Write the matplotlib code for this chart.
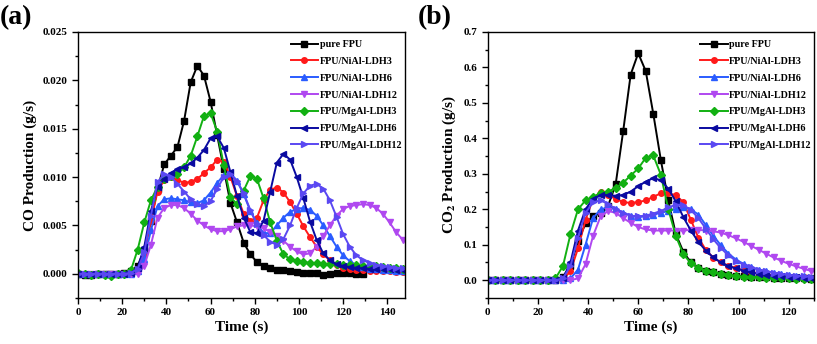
import numpy as np
import matplotlib
matplotlib.use("Agg")
import matplotlib.pyplot as plt
from matplotlib.ticker import MultipleLocator, FormatStrFormatter

plt.rcParams['font.family'] = 'Liberation Serif'
plt.rcParams['font.weight'] = 'bold'
plt.rcParams['mathtext.fontset'] = 'stix'

labels = ["pure FPU", "FPU/NiAl-LDH3", "FPU/NiAl-LDH6", "FPU/NiAl-LDH12",
          "FPU/MgAl-LDH3", "FPU/MgAl-LDH6", "FPU/MgAl-LDH12"]
colors = ["#000000", "#ff1a1a", "#2a5cff", "#b048f0", "#12b012", "#0a0aa0", "#5a48f2"]
markers = ["s", "o", "^", "v", "D", "<", ">"]

# (a) CO production, values in 1e-3 g/s, every 3 s
t_co = np.arange(0, 150, 3)
t_co_pure = np.arange(0, 132, 3)
co_pure = [0.0, -0.1, -0.1, 0.0, 0.0, 0.0, 0.0, 0.1,
           0.3, 0.8, 2.5, 5.5, 8.8, 11.3, 12.2, 13.1, 15.8, 19.8,
           21.5, 20.5, 17.8, 14.3, 10.8, 7.3, 5.3, 3.2, 2.0, 1.2,
           0.8, 0.6, 0.4, 0.35, 0.3, 0.2, 0.1, 0.1, 0.05, -0.1,
           0.0, 0.1, 0.1, 0.05, 0.0, 0.0]
co_ni3 = [0, 0, 0, 0, 0, 0, 0, 0,
          0.1, 0.5, 2.0, 5.5, 8.5, 9.7, 10.0, 9.7, 9.4, 9.5,
          9.8, 10.4, 11.0, 11.8, 11.6, 10.0, 8.0, 6.2, 5.5, 5.8,
          7.6, 8.7, 8.9, 8.4, 7.4, 6.2, 4.9, 3.8, 2.8, 2.0,
          1.4, 0.9, 0.6, 0.5, 0.4, 0.35, 0.3, 0.3, 0.3, 0.25, 0.2, 0.2]
co_ni6 = [0, 0, 0, 0, 0, 0, 0, 0,
          0.0, 0.3, 1.5, 4.5, 7.0, 7.7, 7.8, 7.7, 7.6, 7.4,
          7.3, 7.6, 8.4, 9.4, 10.2, 10.4, 9.6, 8.2, 6.5, 5.2,
          4.2, 4.2, 5.0, 5.8, 6.4, 6.7, 6.8, 6.6, 6.0, 5.0,
          3.9, 2.8, 1.9, 1.3, 0.9, 0.7, 0.5, 0.45, 0.4, 0.35, 0.3, 0.3]
co_ni12 = [0, 0, 0, 0, 0, 0, 0, 0,
           0.0, 0.0, 0.8, 3.0, 5.8, 6.8, 7.1, 7.1, 6.8, 6.2,
           5.5, 5.0, 4.6, 4.4, 4.4, 4.6, 4.9, 5.0, 5.0, 4.9,
           4.7, 4.3, 3.9, 3.4, 2.8, 2.3, 2.0, 2.1, 2.8, 3.9,
           5.0, 6.0, 6.7, 7.0, 7.1, 7.2, 7.1, 6.8, 6.2, 5.3, 4.3, 3.5]
co_mg3 = [0.1, 0.0, -0.1, 0.0, -0.1, -0.2, 0.0, 0.0,
          0.4, 2.5, 5.3, 7.6, 9.0, 9.8, 10.1, 10.3, 11.0, 12.2,
          14.2, 16.3, 16.6, 14.7, 11.2, 7.9, 7.2, 8.6, 10.1, 9.8,
          7.8, 5.3, 3.4, 2.0, 1.5, 1.3, 1.2, 1.1, 1.1, 1.0,
          1.0, 1.0, 0.9, 0.9, 0.9, 0.8, 0.8, 0.8, 0.7, 0.6, 0.6, 0.5]
co_mg6 = [0, 0, 0, 0, 0, 0, 0, 0,
          0.1, 0.6, 2.8, 6.5, 9.0, 9.8, 10.4, 10.8, 11.0, 11.4,
          12.0, 12.8, 14.0, 14.2, 13.0, 10.5, 8.0, 5.8, 4.3, 4.2,
          5.5, 8.5, 11.5, 12.4, 11.8, 10.0, 7.8, 5.4, 3.5, 2.1,
          1.4, 1.0, 0.8, 0.7, 0.6, 0.55, 0.5, 0.5, 0.5, 0.45, 0.4, 0.4]
co_mg12 = [0, 0, 0, 0, 0, 0, 0, 0,
           0.1, 0.5, 2.2, 6.0, 9.5, 10.3, 10.0, 9.3, 8.5, 7.7,
           7.2, 7.0, 7.5, 8.8, 10.0, 10.3, 9.6, 8.3, 6.6, 5.1,
           4.0, 3.3, 3.0, 3.6, 5.0, 6.8, 8.3, 9.1, 9.3, 8.8,
           7.6, 5.9, 4.1, 2.8, 1.9, 1.4, 1.1, 0.9, 0.8, 0.7, 0.6, 0.6]

# (b) CO2 production, g/s, every 3 s
t_co2 = np.arange(0, 135, 3)
co2_pure = [0] * 10 + [0.01, 0.04, 0.11, 0.16, 0.18, 0.19, 0.21, 0.27,
            0.42, 0.58, 0.64, 0.59, 0.47, 0.34, 0.225, 0.13, 0.08, 0.05,
            0.035, 0.027, 0.022, 0.018, 0.015, 0.013, 0.011, 0.01, 0.009, 0.008,
            0.007, 0.006, 0.006, 0.005, 0.005, 0.004, 0.004]
co2_ni3 = [0] * 10 + [0.003, 0.025, 0.09, 0.17, 0.23, 0.25, 0.24, 0.23,
           0.22, 0.218, 0.22, 0.225, 0.235, 0.245, 0.245, 0.24, 0.22, 0.17,
           0.12, 0.085, 0.063, 0.05, 0.04, 0.034, 0.028, 0.023, 0.019, 0.016,
           0.014, 0.012, 0.01, 0.009, 0.008, 0.007, 0.006]
co2_ni6 = [0] * 11 + [0.005, 0.03, 0.10, 0.175, 0.2, 0.205, 0.2,
           0.19, 0.182, 0.178, 0.18, 0.185, 0.19, 0.195, 0.2, 0.205, 0.2,
           0.185, 0.155, 0.125, 0.098, 0.075, 0.058, 0.046, 0.037, 0.03, 0.025,
           0.021, 0.018, 0.015, 0.013, 0.011, 0.01, 0.009]
co2_ni12 = [0] * 12 + [0.005, 0.045, 0.125, 0.18, 0.195, 0.19,
            0.175, 0.162, 0.15, 0.143, 0.14, 0.14, 0.14, 0.14, 0.14, 0.142,
            0.142, 0.14, 0.138, 0.134, 0.127, 0.118, 0.108, 0.097, 0.086, 0.075,
            0.064, 0.055, 0.046, 0.039, 0.032, 0.026, 0.022]
co2_mg3 = [0] * 9 + [0.005, 0.04, 0.13, 0.2, 0.225, 0.235, 0.245, 0.25, 0.26,
           0.275, 0.295, 0.315, 0.345, 0.352, 0.298, 0.2, 0.125, 0.073, 0.048,
           0.035, 0.027, 0.022, 0.018, 0.015, 0.012, 0.01, 0.009, 0.008, 0.007,
           0.006, 0.005, 0.005, 0.004, 0.004, 0.004, 0.003]
co2_mg6 = [0] * 10 + [0.005, 0.05, 0.14, 0.2, 0.23, 0.24, 0.24, 0.238,
           0.24, 0.25, 0.265, 0.278, 0.288, 0.282, 0.258, 0.222, 0.178, 0.14,
           0.108, 0.083, 0.064, 0.05, 0.04, 0.033, 0.027, 0.022, 0.018, 0.015,
           0.013, 0.011, 0.01, 0.008, 0.007, 0.006, 0.006]
co2_mg12 = [0] * 10 + [0.005, 0.04, 0.12, 0.19, 0.22, 0.225, 0.215, 0.2,
            0.19, 0.182, 0.18, 0.182, 0.188, 0.195, 0.205, 0.213, 0.212, 0.198,
            0.175, 0.145, 0.115, 0.09, 0.07, 0.055, 0.044, 0.036, 0.03, 0.025,
            0.021, 0.018, 0.015, 0.013, 0.011, 0.01, 0.009]

co_sets = [(t_co_pure, co_pure), (t_co, co_ni3), (t_co, co_ni6), (t_co, co_ni12),
           (t_co, co_mg3), (t_co, co_mg6), (t_co, co_mg12)]
co2_sets = [co2_pure, co2_ni3, co2_ni6, co2_ni12, co2_mg3, co2_mg6, co2_mg12]


def style_axes(ax):
    ax.tick_params(which='both', direction='out', labelsize=8, width=1)
    ax.tick_params(which='major', length=4)
    ax.tick_params(which='minor', length=2.5)
    for s in ax.spines.values():
        s.set_linewidth(1.0)
    for lab in ax.get_xticklabels() + ax.get_yticklabels():
        lab.set_fontweight('bold')


fig = plt.figure(figsize=(8.17, 3.44), dpi=100)
ax1 = fig.add_axes([0.0955, 0.134, 0.4002, 0.773])
ax2 = fig.add_axes([0.597, 0.134, 0.399, 0.773])

for (tt, vals), lab, c, m in zip(co_sets, labels, colors, markers):
    ax1.plot(tt, np.array(vals) * 1e-3, color=c, marker=m, markersize=4,
             linewidth=1.4, label=lab)
for vals, lab, c, m in zip(co2_sets, labels, colors, markers):
    ax2.plot(t_co2, vals, color=c, marker=m, markersize=4,
             linewidth=1.4, label=lab)

ax1.set_xlim(0, 148)
ax1.set_ylim(-0.0025, 0.025)
ax1.xaxis.set_major_locator(MultipleLocator(20))
ax1.xaxis.set_minor_locator(MultipleLocator(10))
ax1.yaxis.set_major_locator(MultipleLocator(0.005))
ax1.yaxis.set_minor_locator(MultipleLocator(0.0025))
ax1.yaxis.set_major_formatter(FormatStrFormatter('%.3f'))
ax1.set_xlabel("Time (s)", fontsize=11, fontweight='bold', labelpad=2)
ax1.set_ylabel("CO Production (g/s)", fontsize=11, fontweight='bold', labelpad=4)

ax2.set_xlim(0, 130)
ax2.set_ylim(-0.05, 0.7)
ax2.xaxis.set_major_locator(MultipleLocator(20))
ax2.xaxis.set_minor_locator(MultipleLocator(10))
ax2.yaxis.set_major_locator(MultipleLocator(0.1))
ax2.yaxis.set_minor_locator(MultipleLocator(0.05))
ax2.yaxis.set_major_formatter(FormatStrFormatter('%.1f'))
ax2.set_xlabel("Time (s)", fontsize=11, fontweight='bold', labelpad=2)
ax2.set_ylabel(r"CO$_\mathbf{2}$ Production (g/s)", fontsize=11, fontweight='bold', labelpad=4)

for ax, x0 in [(ax1, 0.638), (ax2, 0.640)]:
    style_axes(ax)
    ax.legend(loc='upper left', bbox_to_anchor=(x0, 0.985), frameon=False,
              handlelength=2.7, handletextpad=0.15,
              labelspacing=0.76, borderaxespad=0,
              prop={'weight': 'bold', 'size': 7.3})

fig.text(0.0, 0.95, "(a)", fontsize=20, fontweight='bold', va='center', ha='left')
fig.text(0.511, 0.95, "(b)", fontsize=20, fontweight='bold', va='center', ha='left')

fig.savefig("out.png", dpi=100)
